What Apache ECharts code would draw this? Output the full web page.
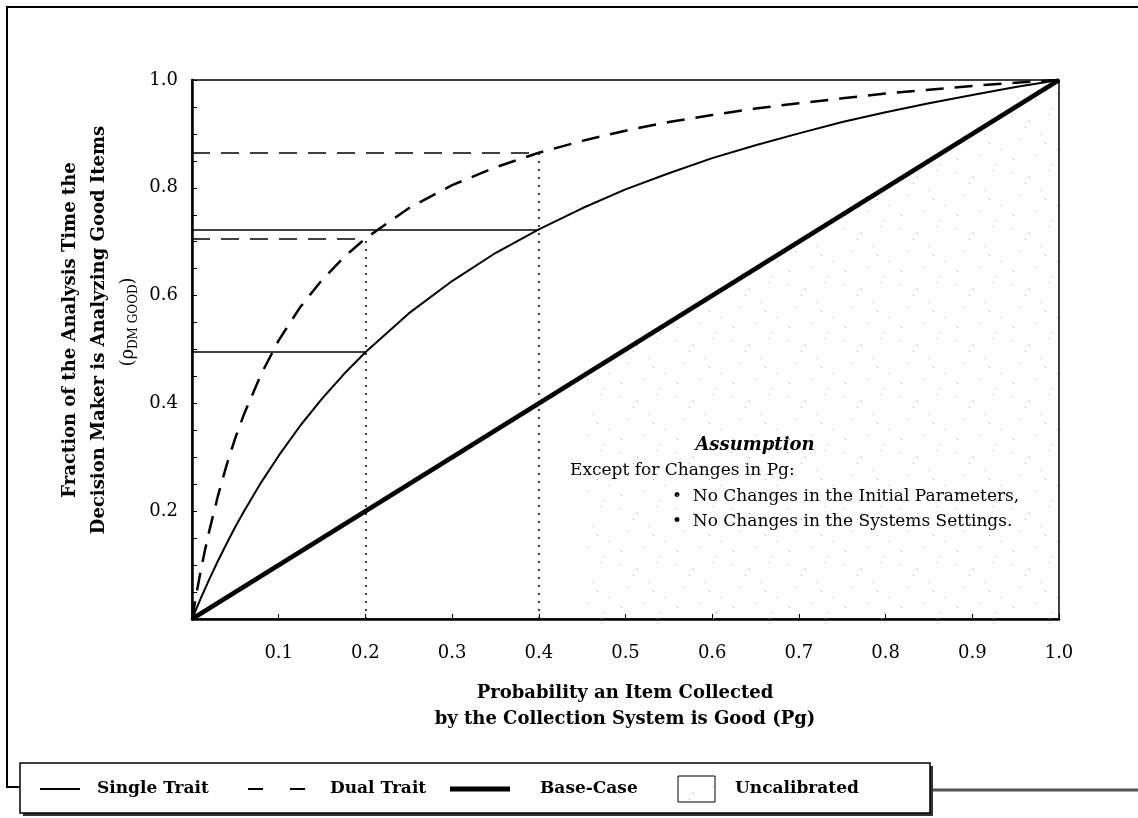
<!DOCTYPE html>
<html>
<head>
<meta charset="utf-8">
<script src="https://cdn.jsdelivr.net/npm/echarts@6/dist/echarts.min.js"></script>
<style>
  html, body { margin: 0; padding: 0; background: #fff; }
  #chart { width: 1138px; height: 818px; }
</style>
</head>
<body>
<div id="chart"></div>
<script>
// Pg values and the curves
const pgValues = [0, 0.005, 0.01, 0.015, 0.02, 0.03, 0.04, 0.05, 0.06, 0.08, 0.1, 0.125, 0.15, 0.175, 0.2,
  0.25, 0.3, 0.35, 0.4, 0.45, 0.5, 0.55, 0.6, 0.65, 0.7, 0.75, 0.8, 0.85, 0.9, 0.95, 1.0];
const singleTrait = [0, 0.019, 0.038, 0.056, 0.074, 0.108, 0.140, 0.171, 0.200, 0.254, 0.303, 0.359, 0.409, 0.454, 0.495,
  0.567, 0.627, 0.679, 0.723, 0.762, 0.797, 0.827, 0.855, 0.879, 0.901, 0.922, 0.940, 0.957, 0.972, 0.987, 1.0];
const dualTrait = [0, 0.046, 0.089, 0.128, 0.164, 0.229, 0.286, 0.336, 0.380, 0.455, 0.517, 0.579, 0.629, 0.671, 0.706,
  0.762, 0.805, 0.838, 0.865, 0.887, 0.906, 0.922, 0.935, 0.947, 0.957, 0.966, 0.975, 0.982, 0.989, 0.995, 1.0];

const baseX = [0, 1.0];
const baseY = [0, 1.0];

// uncalibrated zone (below the base case line)
const uncalX = [0.45, 1.0];
const uncalY = [0.45, 1.0];

// reference (read-off) lines
const guidePg = [0.2, 0.4];
const singleGuideY = [0.495, 0.723];
const dualGuideY = [0.706, 0.865];

const xTicks = [0.1, 0.2, 0.3, 0.4, 0.5, 0.6, 0.7, 0.8, 0.9, 1.0];
const yTicks = [0.2, 0.4, 0.6, 0.8, 1.0];

const serif = 'DejaVu Serif';
const dash = [18, 11];

const zip = (xs, ys) => xs.map((x, i) => [x, ys[i]]);

// sparse dot texture for the uncalibrated area
function dotPattern() {
  const c = document.createElement('canvas');
  c.width = 56; c.height = 56;
  const g = c.getContext('2d');
  g.fillStyle = '#a8a8a8';
  const dots = [[3, 4], [21, 9], [41, 2], [11, 27], [33, 22], [49, 37], [5, 47], [27, 43], [17, 15], [44, 52], [37, 31]];
  dots.forEach(d => g.fillRect(d[0], d[1], 1, 1));
  return c;
}
const pattern = dotPattern();

const chart = echarts.init(document.getElementById('chart'));

const option = {
  backgroundColor: '#fff',
  animation: false,
  grid: {
    left: 192, right: 79, top: 80, bottom: 199,
    show: true, borderColor: '#000', borderWidth: 1.5
  },
  xAxis: {
    type: 'value', min: 0, max: 1, interval: 0.1,
    axisLine: { lineStyle: { color: '#000', width: 2.5 } },
    axisTick: { inside: true, length: 5, lineStyle: { color: '#000' } },
    splitLine: { show: false },
    axisLabel: {
      margin: 25, color: '#000', fontFamily: serif, fontSize: 18,
      formatter: v => {
        const hit = xTicks.find(t => Math.abs(t - v) < 1e-6);
        return hit === undefined ? '' : hit.toFixed(1);
      }
    }
  },
  yAxis: {
    type: 'value', min: 0, max: 1, interval: 0.05,
    axisLine: { lineStyle: { color: '#000', width: 2.5 } },
    axisTick: { inside: true, length: 5, lineStyle: { color: '#000' } },
    splitLine: { show: false },
    axisLabel: {
      margin: 14, color: '#000', fontFamily: serif, fontSize: 18,
      formatter: v => {
        const hit = yTicks.find(t => Math.abs(t - v) < 1e-6);
        return hit === undefined ? '' : hit.toFixed(1);
      }
    }
  },
  series: [
    {
      name: 'Uncalibrated',
      type: 'line',
      data: zip(uncalX, uncalY),
      symbol: 'none',
      lineStyle: { width: 0, opacity: 0 },
      areaStyle: { color: { image: pattern, repeat: 'repeat' }, opacity: 1 },
      silent: true,
      z: 1
    },
    {
      name: 'Base-Case',
      type: 'line',
      data: zip(baseX, baseY),
      symbol: 'none',
      lineStyle: { color: '#000', width: 4.5 },
      z: 3
    },
    {
      name: 'Single Trait',
      type: 'line',
      data: zip(pgValues, singleTrait),
      symbol: 'none',
      lineStyle: { color: '#000', width: 2 },
      markLine: {
        silent: true, symbol: 'none', label: { show: false },
        lineStyle: { color: '#000', width: 1.5, type: 'solid' },
        data: guidePg.map((p, i) => [{ coord: [0, singleGuideY[i]] }, { coord: [p, singleGuideY[i]] }])
      },
      z: 4
    },
    {
      name: 'Dual Trait',
      type: 'line',
      data: zip(pgValues, dualTrait),
      symbol: 'none',
      lineStyle: { color: '#000', width: 2.5, type: dash },
      markLine: {
        silent: true, symbol: 'none', label: { show: false },
        data: guidePg.map((p, i) => [
          { coord: [0, dualGuideY[i]], lineStyle: { color: '#000', width: 1.5, type: dash } },
          { coord: [p, dualGuideY[i]] }
        ]).concat(guidePg.map((p, i) => [
          { coord: [p, 0], lineStyle: { color: '#000', width: 1.5, type: [2, 6] } },
          { coord: [p, dualGuideY[i]] }
        ]))
      },
      z: 4
    }
  ],
  graphic: [
    // outer frame
    { type: 'polyline', shape: { points: [[1138, 7], [7, 7], [7, 787], [20, 787]] },
      style: { stroke: '#000', lineWidth: 2, fill: null } },
    { type: 'line', shape: { x1: 930, y1: 790, x2: 1138, y2: 790 },
      style: { stroke: '#555', lineWidth: 3 } },
    // y axis title
    { type: 'text', x: 70, y: 330, rotation: Math.PI / 2,
      style: { text: 'Fraction of the Analysis Time the', fontFamily: serif, fontWeight: 'bold',
        fontSize: 18, fill: '#000', align: 'center', verticalAlign: 'middle' } },
    { type: 'text', x: 99, y: 330, rotation: Math.PI / 2,
      style: { text: 'Decision Maker is Analyzing Good Items', fontFamily: serif, fontWeight: 'bold',
        fontSize: 18, fill: '#000', align: 'center', verticalAlign: 'middle' } },
    { type: 'text', x: 128, y: 322, rotation: Math.PI / 2,
      style: { text: '(ρ{sub|DM GOOD})', fontFamily: serif,
        fontSize: 18, fill: '#000', align: 'center', verticalAlign: 'middle',
        rich: { sub: { fontFamily: serif, fontSize: 12, fill: '#000', padding: [12, 0, 0, 0] } } } },
    // x axis title
    { type: 'text', x: 625, y: 693,
      style: { text: 'Probability an Item Collected', fontFamily: serif, fontWeight: 'bold',
        fontSize: 18, fill: '#000', align: 'center', verticalAlign: 'middle' } },
    { type: 'text', x: 625, y: 719,
      style: { text: 'by the Collection System is Good (Pg)', fontFamily: serif, fontWeight: 'bold',
        fontSize: 18, fill: '#000', align: 'center', verticalAlign: 'middle' } },
    // assumption note
    { type: 'text', x: 755, y: 445,
      style: { text: 'Assumption', fontFamily: serif, fontWeight: 'bold', fontStyle: 'italic',
        fontSize: 18, fill: '#000', align: 'center', verticalAlign: 'middle' } },
    { type: 'text', x: 570, y: 471,
      style: { text: 'Except for Changes in Pg:', fontFamily: serif,
        fontSize: 17, fill: '#000', align: 'left', verticalAlign: 'middle' } },
    { type: 'text', x: 672, y: 497,
      style: { text: '•  No Changes in the Initial Parameters,', fontFamily: serif,
        fontSize: 17, fill: '#000', align: 'left', verticalAlign: 'middle' } },
    { type: 'text', x: 672, y: 522,
      style: { text: '•  No Changes in the Systems Settings.', fontFamily: serif,
        fontSize: 17, fill: '#000', align: 'left', verticalAlign: 'middle' } },
    // legend box
    { type: 'rect', shape: { x: 23, y: 766, width: 910, height: 50 }, style: { fill: '#333' } },
    { type: 'rect', shape: { x: 20, y: 763, width: 910, height: 50 },
      style: { fill: '#fff', stroke: '#000', lineWidth: 1.5 } },
    { type: 'line', shape: { x1: 40, y1: 789, x2: 80, y2: 789 }, style: { stroke: '#000', lineWidth: 2 } },
    { type: 'text', x: 97, y: 789, style: { text: 'Single Trait', fontFamily: serif, fontWeight: 'bold',
      fontSize: 17, fill: '#000', verticalAlign: 'middle' } },
    { type: 'line', shape: { x1: 248, y1: 789, x2: 263, y2: 789 }, style: { stroke: '#000', lineWidth: 2 } },
    { type: 'line', shape: { x1: 290, y1: 789, x2: 305, y2: 789 }, style: { stroke: '#000', lineWidth: 2 } },
    { type: 'text', x: 330, y: 789, style: { text: 'Dual Trait', fontFamily: serif, fontWeight: 'bold',
      fontSize: 17, fill: '#000', verticalAlign: 'middle' } },
    { type: 'line', shape: { x1: 450, y1: 789, x2: 510, y2: 789 }, style: { stroke: '#000', lineWidth: 5 } },
    { type: 'text', x: 540, y: 789, style: { text: 'Base-Case', fontFamily: serif, fontWeight: 'bold',
      fontSize: 17, fill: '#000', verticalAlign: 'middle' } },
    { type: 'rect', shape: { x: 678, y: 776, width: 37, height: 26 },
      style: { fill: { image: pattern, repeat: 'repeat' }, stroke: '#000', lineWidth: 1 } },
    { type: 'text', x: 735, y: 789, style: { text: 'Uncalibrated', fontFamily: serif, fontWeight: 'bold',
      fontSize: 17, fill: '#000', verticalAlign: 'middle' } }
  ]
};

chart.setOption(option);
window.addEventListener('resize', () => chart.resize());
</script>
</body>
</html>
